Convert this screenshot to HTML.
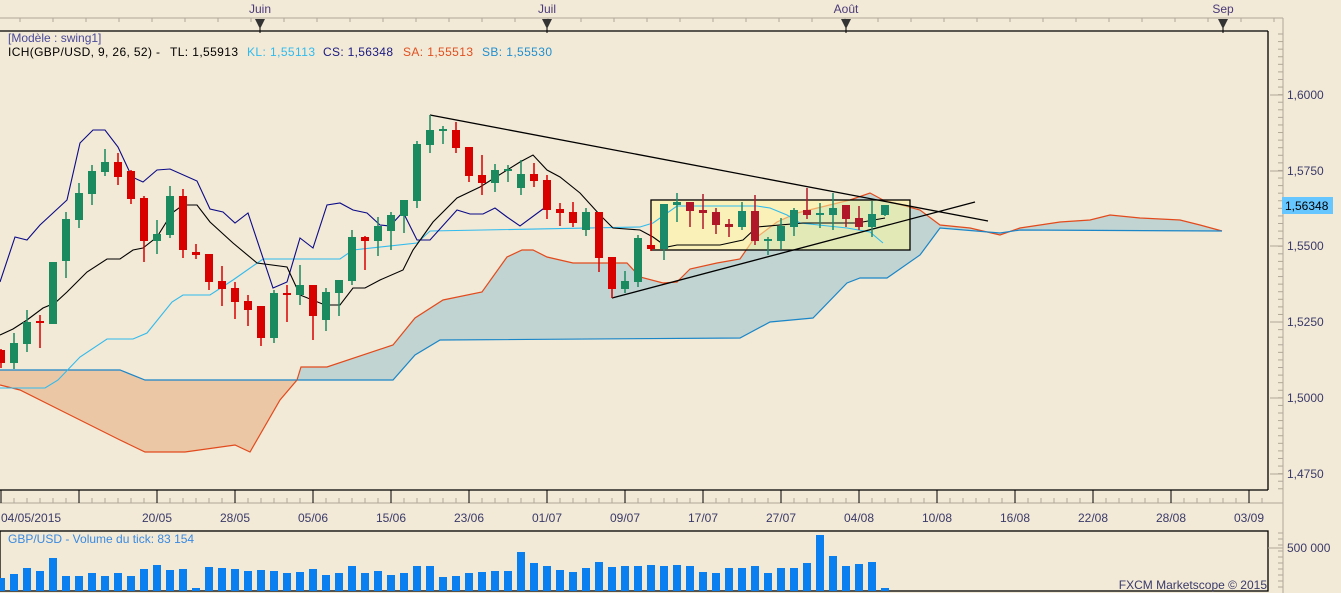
<!DOCTYPE html>
<html><head><meta charset="utf-8"><style>
html,body{margin:0;padding:0;background:#f2e9d6;width:1341px;height:593px;overflow:hidden}
svg{display:block;font-family:"Liberation Sans","DejaVu Sans",sans-serif}
</style></head><body>
<svg id="s" width="1341" height="593" xmlns="http://www.w3.org/2000/svg">
<rect width="1341" height="593" fill="#f2e9d6"/>
<g id="cloud"></g>
<g id="lines"></g>
<g id="cand"></g>
<g id="frame"></g>
</svg>
<script>
var NS="http://www.w3.org/2000/svg";
function el(p,t,a,txt){var e=document.createElementNS(NS,t);for(var k in a)e.setAttribute(k,a[k]);if(txt!==undefined)e.textContent=txt;document.getElementById(p).appendChild(e);return e;}
function pts(a){return a.map(function(p){return p[0]+","+p[1]}).join(" ");}
// cloud left (orange, SB above SA)
var sbL=[[0,370],[120,370],[145,380],[297,380]];
var saL=[[297,380],[280,400],[250,452],[235,445],[185,452],[145,452],[120,440],[60,410],[20,390],[0,385]];
el("cloud","polygon",{points:pts(sbL.concat(saL)),fill:"#ebc7a6"});
var SA=[[297,380],[301,367],[327,367],[393,345],[415,318],[443,300],[482,292],[507,257],[522,250],[533,250],[547,257],[573,263],[627,263],[640,277],[663,283],[677,282],[690,269],[717,263],[740,259],[753,240],[777,222],[797,213],[850,200],[870,193],[883,200],[920,210],[940,225],[970,228],[1000,235],[1020,228],[1060,222],[1090,220],[1110,215],[1140,218],[1180,220],[1200,225],[1222,231]];
var SB=[[297,380],[393,380],[415,355],[440,340],[740,338],[770,322],[813,318],[847,283],[860,278],[887,278],[920,255],[940,228],[1000,233],[1020,230],[1222,231]];
el("cloud","polygon",{points:pts(SA.concat(SB.slice().reverse())),fill:"#c1d4d2"});
el("cloud","polyline",{points:pts(sbL),fill:"none",stroke:"#1a86c8","stroke-width":1.2});
el("cloud","polyline",{points:pts(saL),fill:"none",stroke:"#e24a1c","stroke-width":1.2});
el("cloud","polyline",{points:pts(SA),fill:"none",stroke:"#e24a1c","stroke-width":1.2});
el("cloud","polyline",{points:pts(SB),fill:"none",stroke:"#1a86c8","stroke-width":1.2});
// yellow box
el("cloud","rect",{x:651,y:200,width:259,height:50,fill:"#fff8a0","fill-opacity":0.55,stroke:"#000","stroke-width":1.3});
// lines
var KL=[[0,388],[45,388],[58,380],[80,357],[107,339],[133,339],[147,333],[172,302],[183,295],[210,295],[233,280],[263,259],[340,259],[353,250],[417,243],[430,231],[640,227],[653,223],[677,206],[757,206],[770,208],[787,215],[800,223],[847,228],[870,232],[883,243]];
var TL=[[0,335],[13,329],[27,320],[43,308],[55,303],[67,292],[87,272],[107,259],[120,259],[133,250],[143,248],[157,237],[172,213],[183,205],[197,205],[210,222],[233,243],[257,263],[287,267],[300,295],[325,305],[340,305],[353,288],[365,288],[380,280],[403,270],[413,250],[433,222],[457,198],[480,187],[520,162],[533,155],[547,170],[560,177],[580,193],[600,215],[613,228],[640,230],[653,237],[667,247],[677,245],[720,245],[743,240],[757,227],[803,223],[857,223],[885,218]];
var CS=[[0,282],[15,237],[27,240],[40,225],[67,200],[80,143],[93,130],[105,130],[118,147],[132,177],[143,182],[157,170],[170,169],[197,181],[210,209],[223,212],[235,223],[248,213],[273,288],[287,282],[300,238],[313,248],[327,205],[340,203],[353,210],[367,213],[380,225],[390,226],[403,212],[417,240],[430,240],[457,210],[470,214],[483,214],[495,208],[507,217],[520,226],[547,206]];
el("lines","polyline",{points:pts(KL),fill:"none",stroke:"#30bbee","stroke-width":1.1});
el("lines","polyline",{points:pts(CS),fill:"none",stroke:"#0a0a88","stroke-width":1.1});
el("lines","polyline",{points:pts(TL),fill:"none",stroke:"#000","stroke-width":1.1});
el("lines","line",{x1:430,y1:115,x2:988,y2:221,stroke:"#000","stroke-width":1.3});
el("lines","line",{x1:612,y1:298,x2:975,y2:202,stroke:"#000","stroke-width":1.3});
// candles: [dir, bodyTop, bodyBot, wickTop, wickBot]
var C=[[0,350,363,349,368],[1,343,363,333,369],[1,322,344,310,352],[0,321,323,315,348],[1,262,324,262,324],[1,219,261,212,278],[1,193,220,183,228],[1,171,194,165,205],[1,162,172,149,176],[0,162,177,153,185],[0,171,199,170,204],[0,198,241,196,262],[1,234,241,220,254],[1,196,235,186,238],[0,196,250,189,258],[0,252,255,244,259],[0,254,282,254,290],[0,281,289,266,306],[0,288,302,282,319],[0,301,310,295,326],[0,306,338,306,346],[1,293,338,290,343],[0,293,295,285,322],[1,285,295,265,305],[0,285,316,285,340],[1,292,320,288,331],[1,280,293,280,316],[1,237,281,230,285],[0,237,241,236,270],[1,226,241,217,256],[1,215,231,212,250],[1,200,216,200,233],[1,144,201,141,208],[1,130,145,115,153],[1,129,131,126,144],[0,130,148,122,153],[0,147,176,147,182],[0,175,183,155,195],[1,170,183,164,192],[1,169,171,165,182],[1,174,188,160,195],[0,174,181,163,187],[0,180,210,175,219],[0,209,213,203,226],[0,212,223,202,227],[1,212,230,208,236],[0,212,258,212,272],[0,257,289,257,298],[1,281,289,271,293],[1,238,282,235,287],[0,245,249,221,251],[1,204,249,204,260],[1,202,205,193,222],[0,202,211,202,227],[0,210,213,194,229],[0,212,225,208,234],[0,224,227,219,237],[1,211,227,202,230],[0,211,241,195,245],[1,239,241,237,255],[1,226,241,218,249],[1,210,227,208,236],[0,210,215,188,219],[1,213,215,203,228],[1,208,215,193,230],[0,205,219,205,227],[0,218,227,206,230],[1,214,227,201,237],[1,205,215,205,216]];
C.forEach(function(c,i){var x=1+13*i;var inb=(x>651&&x<910);var col=c[0]?(inb?"#1a8a6a":"#1b8a5f"):(inb?"#b0182a":"#d90000");
el("cand","line",{x1:x,y1:c[3],x2:x,y2:c[4],stroke:col,"stroke-width":1.5});
var h=Math.max(c[2]-c[1],2);el("cand","rect",{x:x-4,y:c[1],width:8,height:h,fill:col});});
// frame
var F="frame";
el(F,"rect",{x:0,y:0,width:1341,height:31,fill:"#f2e9d6"});
el(F,"line",{x1:0,y1:18,x2:1283,y2:18,stroke:"#b0a898","stroke-width":1});
for(var x=20;x<1283;x+=33)el(F,"line",{x1:x,y1:18,x2:x,y2:22,stroke:"#b0a898"});
el(F,"line",{x1:0,y1:31,x2:1268,y2:31,stroke:"#000","stroke-width":1.3});
el(F,"line",{x1:1268,y1:31,x2:1268,y2:490,stroke:"#000","stroke-width":1.3});
el(F,"line",{x1:0,y1:490,x2:1268,y2:490,stroke:"#000","stroke-width":1.3});
[["Juin",260],["Juil",547],["Août",846],["Sep",1223]].forEach(function(m){
el(F,"text",{x:m[1],y:13,"font-size":12,fill:"#4a3a7a","text-anchor":"middle"},m[0]);
el(F,"polygon",{points:(m[1]-5)+",19 "+(m[1]+5)+",19 "+m[1]+",29",fill:"#333"});
el(F,"line",{x1:m[1],y1:28,x2:m[1],y2:33,stroke:"#000"});});
// right axis
el(F,"line",{x1:1283,y1:18,x2:1283,y2:593,stroke:"#b0a898"});
for(var y=34;y<490;y+=7.58){el(F,"line",{x1:1278,y1:y,x2:1283,y2:y,stroke:"#b0a898"});}
[["1,6000",95],["1,5750",171],["1,5500",246],["1,5250",322],["1,5000",398],["1,4750",474]].forEach(function(p){
el(F,"line",{x1:1270,y1:p[1],x2:1283,y2:p[1],stroke:"#b0a898"});
el(F,"text",{x:1287,y:p[1]+4,"font-size":12,fill:"#3a3a6a"},p[0]);});
el(F,"rect",{x:1282,y:197,width:51,height:17,fill:"#66c6ff"});
el(F,"text",{x:1285,y:210,"font-size":12,fill:"#000"},"1,56348");
// bottom axis
el(F,"line",{x1:0,y1:503,x2:1283,y2:503,stroke:"#b0a898"});
for(var i=0;i<98;i++){var x=1+13*i;if(x>1268)break;el(F,"line",{x1:x,y1:(i%6==0)?490:498,x2:x,y2:503,stroke:(i%6==0)?"#000":"#b0a898"});}
el(F,"text",{x:1,y:522,"font-size":12,fill:"#3a3a6a"},"04/05/2015");
["20/05","28/05","05/06","15/06","23/06","01/07","09/07","17/07","27/07","04/08","10/08","16/08","22/08","28/08","03/09"].forEach(function(d,k){
el(F,"text",{x:157+78*k,y:522,"font-size":12,fill:"#3a3a6a","text-anchor":"middle"},d);});
// volume
el(F,"rect",{x:0,y:531,width:1268,height:60,fill:"none",stroke:"#000","stroke-width":1.3});
var V=[578,574,568,571,558,576,576,573,576,573,576,569,565,570,569,588,567,568,569,571,570,571,573,572,569,575,573,566,573,571,575,573,566,566,577,576,573,572,571,571,552,563,566,570,572,568,562,567,566,566,565,566,565,566,572,573,568,568,566,573,568,568,563,535,556,566,564,562,588];
V.forEach(function(v,i){var x=1+13*i;el(F,"rect",{x:x-4,y:v,width:8,height:591-v,fill:"#0a80f0"});});
el(F,"text",{x:8,y:543,"font-size":12,fill:"#3a8ae0"},"GBP/USD - Volume du tick: 83 154");
el(F,"text",{x:1267,y:589,"font-size":12,fill:"#3a3a6a","text-anchor":"end"},"FXCM Marketscope © 2015");
for(var y=533;y<593;y+=6)el(F,"line",{x1:1278,y1:y,x2:1283,y2:y,stroke:"#b0a898"});
el(F,"line",{x1:1268,y1:548,x2:1283,y2:548,stroke:"#b0a898"});
el(F,"text",{x:1287,y:552,"font-size":12,fill:"#3a3a6a"},"500 000");
// legend
el(F,"text",{x:8,y:42,"font-size":12,fill:"#4a4a9a"},"[Modèle : swing1]");
el(F,"text",{x:8,y:56,"font-size":12,fill:"#000",textLength:152},"ICH(GBP/USD, 9, 26, 52) -");
el(F,"text",{x:170,y:56,"font-size":12,fill:"#000",textLength:68},"TL: 1,55913");
el(F,"text",{x:247,y:56,"font-size":12,fill:"#30bbee",textLength:68},"KL: 1,55113");
el(F,"text",{x:323,y:56,"font-size":12,fill:"#1a1a80",textLength:70},"CS: 1,56348");
el(F,"text",{x:403,y:56,"font-size":12,fill:"#e05020",textLength:70},"SA: 1,55513");
el(F,"text",{x:482,y:56,"font-size":12,fill:"#2090d0",textLength:70},"SB: 1,55530");
</script>
</body></html>
